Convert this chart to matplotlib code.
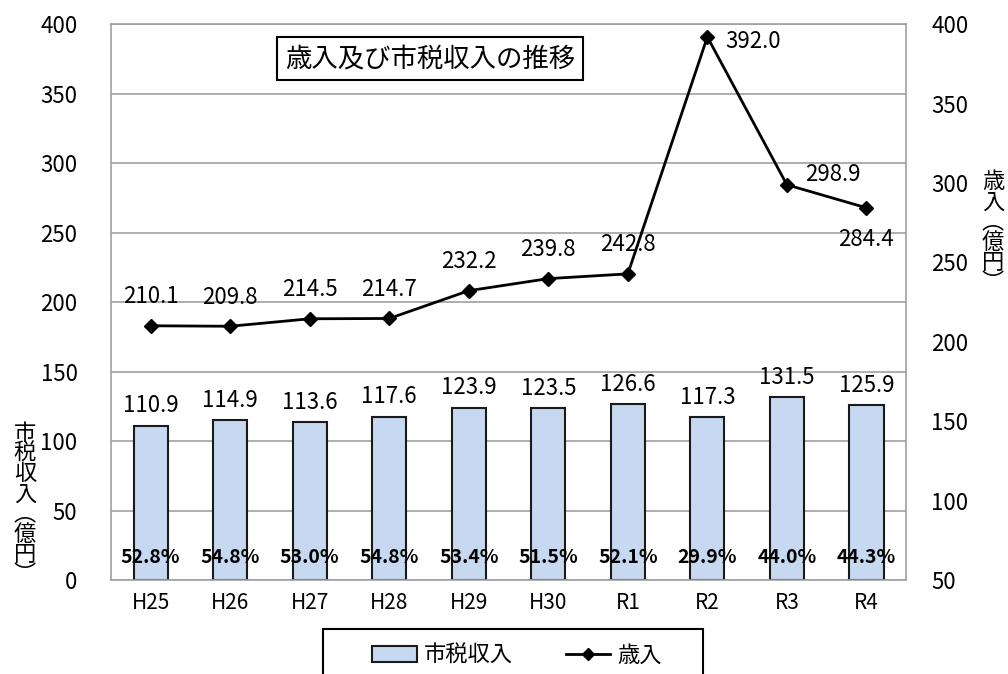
import matplotlib
matplotlib.use("Agg")
import matplotlib.pyplot as plt
from matplotlib.patches import Rectangle
from matplotlib.lines import Line2D
from matplotlib.patches import Patch

# データ
nendo = ["H25", "H26", "H27", "H28", "H29", "H30", "R1", "R2", "R3", "R4"]
shizei = [110.9, 114.9, 113.6, 117.6, 123.9, 123.5, 126.6, 117.3, 131.5, 125.9]
sainyu = [210.1, 209.8, 214.5, 214.7, 232.2, 239.8, 242.8, 392.0, 298.9, 284.4]
hiritsu = ["52.8%", "54.8%", "53.0%", "54.8%", "53.4%", "51.5%", "52.1%", "29.9%", "44.0%", "44.3%"]

plt.rcParams['font.family'] = ['Noto Sans CJK JP', 'DejaVu Sans']

fig = plt.figure(figsize=(10.08, 6.74), dpi=100)
ax = fig.add_axes([0.110, 0.1395, 0.789, 0.8245])
ax2 = ax.twinx()

x = list(range(len(nendo)))

# 棒グラフ（市税収入）
ax.bar(x, shizei, width=0.43, color='#c6d9f0', edgecolor='#1a1a1a', linewidth=1.5, zorder=2)
ax.set_ylim(0, 400)
ax.set_yticks(range(0, 401, 50))
ax.set_xlim(-0.5, len(nendo) - 0.5)
ax.set_xticks(x)
ax.set_xticklabels(nendo)
ax.yaxis.grid(True, color='#a0a0a0', linewidth=1.2, zorder=0)
ax.set_axisbelow(True)
ax.tick_params(axis='y', length=0, pad=24, labelsize=16)
ax.tick_params(axis='x', length=0, pad=9, labelsize=15)
for s in ax.spines.values():
    s.set_color('#a0a0a0')
    s.set_linewidth(1.2)

for i, v in enumerate(shizei):
    ax.annotate(f"{v:.1f}", (i, v), xytext=(0, 20), textcoords='offset pixels',
                ha='center', va='center', fontsize=16)
for i, p in enumerate(hiritsu):
    ax.text(i, 16, p, ha='center', va='center', fontsize=14, fontweight='bold')

# 折れ線（歳入）
ax2.plot(x, sainyu, color='black', linewidth=2, marker='D', markersize=7, zorder=3)
ax2.set_ylim(50, 400)
ax2.set_yticks(range(50, 401, 50))
ax2.tick_params(axis='y', length=0, pad=18, labelsize=16)
for s in ax2.spines.values():
    s.set_visible(False)

offsets = {7: (18, -5, 'left'), 8: (18, 10, 'left'), 9: (0, -32, 'center')}
for i, v in enumerate(sainyu):
    dx, dy, ha = offsets.get(i, (0, 29, 'center'))
    ax2.annotate(f"{v:.1f}", (i, v), xytext=(dx, dy), textcoords='offset pixels',
                 ha=ha, va='center', fontsize=16)

# タイトル
ax.text(0.401, 0.938, "歳入及び市税収入の推移", transform=ax.transAxes, ha='center', va='center',
        fontsize=19,
        bbox=dict(boxstyle='square,pad=0.3', fc='white', ec='black', lw=1.5), zorder=5)

# 軸ラベル（縦書き）
fig.text(25 / 1008, 1 - 504 / 674, "\n".join("市税収入︵億円︶"), ha='center', va='center',
         fontsize=16, linespacing=0.84)
fig.text(993 / 1008, 1 - 232 / 674, "\n".join("歳入︵億円︶"), ha='center', va='center',
         fontsize=16, linespacing=0.84)

# 凡例
fig.patches.append(Rectangle((323 / 1008, -0.05), 380 / 1008, 0.05 + 45 / 674, transform=fig.transFigure,
                             fill=False, ec='black', lw=1.5))
handles = [Patch(fc='#c6d9f0', ec='#1a1a1a', lw=1.5),
           Line2D([], [], color='black', lw=2, marker='D', markersize=6)]
fig.legend(handles, ["市税収入", "歳入"], loc='center', bbox_to_anchor=(517 / 1008, 1 - 655 / 674),
           ncol=2, frameon=False, prop={'size': 16}, handlelength=2.0,
           columnspacing=2.4, handletextpad=0.3)

fig.savefig("out.png", dpi=100)
